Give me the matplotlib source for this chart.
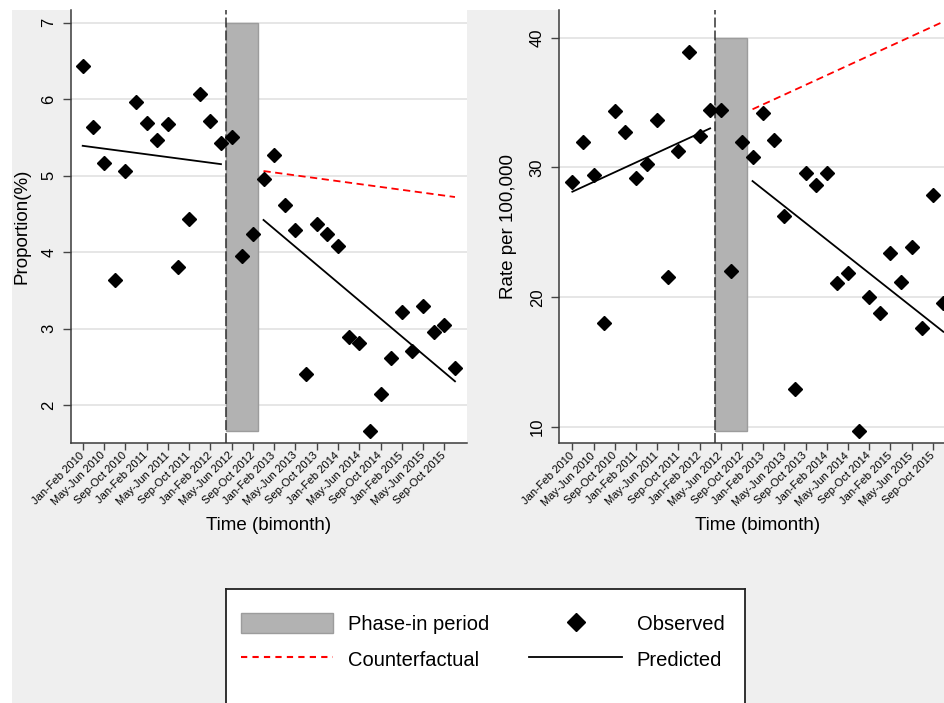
import numpy as np
import matplotlib
matplotlib.use('Agg')
import matplotlib.pyplot as plt
from matplotlib.patches import Rectangle, Patch
from matplotlib.lines import Line2D

plt.rcParams['font.family'] = ['Liberation Sans', 'DejaVu Sans']

# bimonthly periods, Jan-Feb 2010 .. Nov-Dec 2015
bimonths = ['Jan-Feb', 'Mar-Apr', 'May-Jun', 'Jul-Aug', 'Sep-Oct', 'Nov-Dec']
years = ['2010', '2011', '2012', '2013', '2014', '2015']
periods = [b + ' ' + y for y in years for b in bimonths]

tick_labels = ['Jan-Feb 2010', 'May-Jun 2010', 'Sep-Oct 2010',
               'Jan-Feb 2011', 'May-Jun 2011', 'Sep-Oct 2011',
               'Jan-Feb 2012', 'May-Jun 2012', 'Sep-Oct 2012',
               'Jan-Feb 2013', 'May-Jun 2013', 'Sep-Oct 2013',
               'Jan-Feb 2014', 'May-Jun 2014', 'Sep-Oct 2014',
               'Jan-Feb 2015', 'May-Jun 2015', 'Sep-Oct 2015']

phase_in = ['May-Jun 2012', 'Sep-Oct 2012']

# left panel: proportion (%)
prop_obs = [6.43, 5.64, 5.16, 3.64, 5.06, 5.96, 5.69, 5.47, 5.67, 3.80, 4.43, 6.07,
            5.71, 5.43, 5.51, 3.95, 4.24, 4.96, 5.27, 4.62, 4.29, 2.40, 4.37, 4.24,
            4.08, 2.89, 2.81, 1.66, 2.15, 2.61, 3.21, 2.70, 3.30, 2.96, 3.05, 2.48]
prop_pred_pre = [5.39, 5.15]
prop_pred_post = [4.42, 2.31]
prop_cf = [5.06, 4.72]

# right panel: rate per 100,000
rate_obs = [28.88, 31.93, 29.39, 17.99, 34.32, 32.73, 29.19, 30.29, 33.68, 21.58, 31.27, 38.87,
            32.40, 34.45, 34.45, 22.02, 31.93, 30.80, 34.19, 32.09, 26.28, 12.95, 29.55, 28.62,
            29.55, 21.07, 21.86, 9.69, 20.04, 18.76, 23.43, 21.17, 23.89, 17.65, 27.85, 19.58]
rate_pred_pre = [28.13, 33.01]
rate_pred_post = [28.95, 17.34]
rate_cf = [34.48, 41.23]

pre_span = ['Jan-Feb 2010', 'Mar-Apr 2012']
post_span = ['Nov-Dec 2012', 'Nov-Dec 2015']

GRAY_BAR = '#b2b2b2'
GRAY_EDGE = '#9c9c9c'


def draw_panel(ax, obs, pred_pre, pred_post, cf, yticks, ylim, ytop, xlim, ylabel, labelpad):
    x = np.arange(len(periods))
    ax.set_facecolor('white')
    ax.grid(axis='y', color='#e4e4e4', lw=1.3)
    ax.set_axisbelow(True)

    i0 = periods.index(phase_in[0])
    i1 = periods.index(phase_in[1])
    ax.add_patch(Rectangle((i0 - 0.5, min(obs)), i1 - i0 + 1, ytop - min(obs),
                           facecolor=GRAY_BAR, edgecolor=GRAY_EDGE, lw=1, zorder=2))
    ax.axvline(i0 - 0.5, color='#333333', lw=1.1, ls=(0, (6.5, 2)), zorder=3)

    pre_x = [periods.index(p) for p in pre_span]
    post_x = [periods.index(p) for p in post_span]
    ax.plot(pre_x, pred_pre, color='black', lw=1.3, zorder=4)
    ax.plot(post_x, pred_post, color='black', lw=1.3, zorder=4)
    ax.plot(post_x, cf, color='red', lw=1.3, ls=(0, (4, 2.5)), zorder=4)
    ax.plot(x, obs, ls='none', marker='D', ms=7.3, color='black', zorder=5)

    ax.set_xlim(*xlim)
    ax.set_ylim(*ylim)
    ax.set_xticks(x[::2])
    ax.set_xticklabels(tick_labels, rotation=45, ha='right', va='center',
                       rotation_mode='anchor', fontsize=8)
    ax.set_yticks(yticks)
    ax.set_yticklabels([str(v) for v in yticks], rotation=90, va='center', fontsize=12)
    ax.tick_params(axis='x', length=5, width=1, color='#444444', pad=3)
    ax.tick_params(axis='y', length=5.5, width=1, color='#444444', pad=5)
    for s in ['top', 'right']:
        ax.spines[s].set_visible(False)
    for s in ['left', 'bottom']:
        ax.spines[s].set_color('#3a3a3a')
        ax.spines[s].set_linewidth(1.1)
    ax.set_xlabel('Time (bimonth)', fontsize=13.5, labelpad=7)
    ax.set_ylabel(ylabel, fontsize=13.5, labelpad=labelpad)


fig = plt.figure(figsize=(9.44, 7.03), dpi=100)
fig.add_artist(Rectangle((12 / 944, 0), 1, 1 - 10 / 703, transform=fig.transFigure,
                         facecolor='#efefef', edgecolor='none', zorder=-5))

ax1 = fig.add_axes([71 / 944, 1 - 442.7 / 703, 396 / 944, 432.7 / 703])
ax2 = fig.add_axes([559.3 / 944, 1 - 443 / 703, 396 / 944, 433 / 703])

draw_panel(ax1, prop_obs, prop_pred_pre, prop_pred_post, prop_cf,
           [2, 3, 4, 5, 6, 7], (1.507, 7.166), 7, (-1.1, 36.13), 'Proportion(%)', 7.5)
draw_panel(ax2, rate_obs, rate_pred_pre, rate_pred_post, rate_cf,
           [10, 20, 30, 40], (8.77, 42.13), 40, (-1.23, 36.13), 'Rate per 100,000', 9.5)

# legend box (cut at bottom like the reference)
ax_leg = fig.add_axes([226 / 944, -0.05, 519 / 944, 0.05 + 1 - 589.3 / 703])
ax_leg.set_facecolor('white')
ax_leg.set_xticks([])
ax_leg.set_yticks([])
for s in ax_leg.spines.values():
    s.set_color('#222222')
    s.set_linewidth(1.3)

handles = [Patch(facecolor=GRAY_BAR, edgecolor=GRAY_EDGE),
           Line2D([], [], color='red', lw=1.5, ls=(0, (3, 2.5))),
           Line2D([], [], ls='none', marker='D', ms=9.5, color='black'),
           Line2D([], [], color='black', lw=1.3)]
labels = ['Phase-in period', 'Counterfactual', 'Observed', 'Predicted']
ax_leg.legend(handles, labels, ncol=2, loc='center',
              bbox_to_anchor=(482.5 / 944, 1 - 641.5 / 703), bbox_transform=fig.transFigure,
              frameon=False, fontsize=14.5, handlelength=4.6, handleheight=1.15,
              handletextpad=0.72, columnspacing=2.0, labelspacing=0.72, borderaxespad=0,
              borderpad=0)

fig.savefig('out.png', dpi=100, facecolor='white')
